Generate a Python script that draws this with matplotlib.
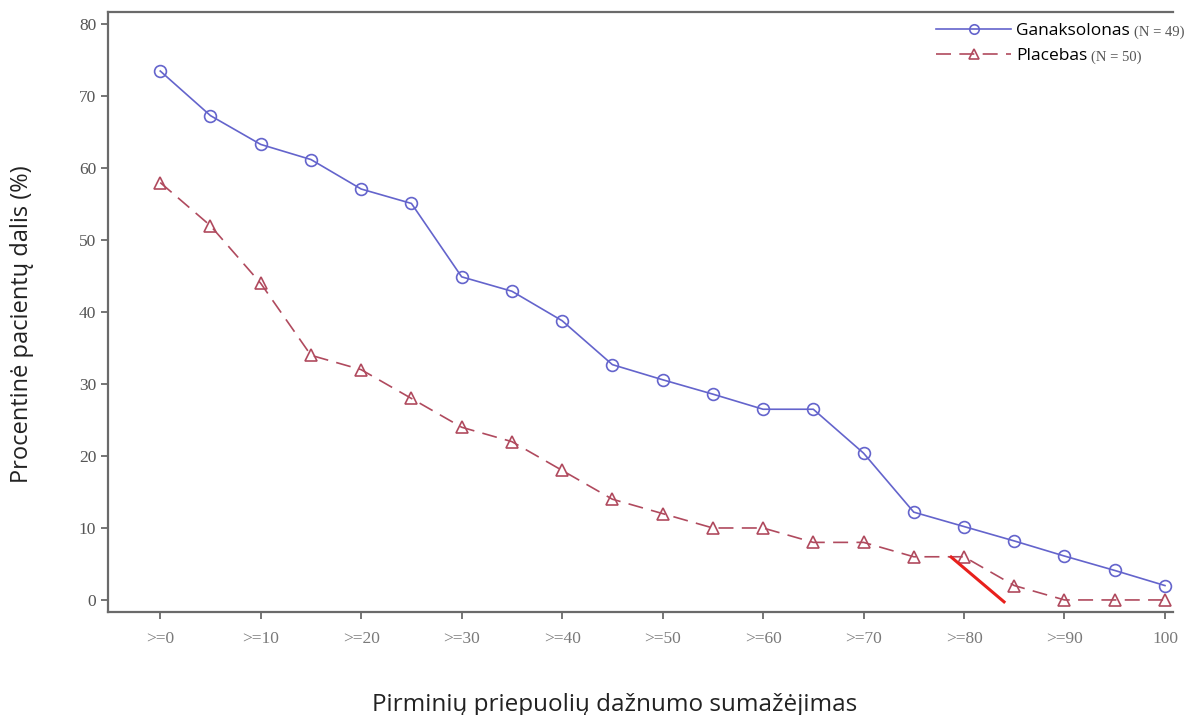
import numpy as np
import matplotlib
matplotlib.use("Agg")
import matplotlib.pyplot as plt

# sumažėjimo slenksčiai (%)
thresholds = np.arange(0, 101, 5)
tick_vals = np.arange(0, 101, 10)
tick_labels = ['>=0', '>=10', '>=20', '>=30', '>=40', '>=50',
               '>=60', '>=70', '>=80', '>=90', '100']

ganaksolonas = [73.5, 67.3, 63.3, 61.2, 57.1, 55.1, 44.9, 42.9, 38.8, 32.7,
                30.6, 28.6, 26.5, 26.5, 20.4, 12.2, 10.2, 8.2, 6.1, 4.1, 2.0]
placebas = [58, 52, 44, 34, 32, 28, 24, 22, 18, 14,
            12, 10, 10, 8, 8, 6, 6, 2, 0, 0, 0]

# raudona žymė ties >=80
mark_x = [78.6, 84.1]
mark_y = [6.1, -0.4]

blue = '#6464cc'
red = '#b04a5e'
grey = '#6a6a6a'

fig = plt.figure(figsize=(12, 7.15), dpi=100)
ax = fig.add_axes([0.09, 0.1441, 0.8875, 0.8391])

ax.plot(thresholds, ganaksolonas, color=blue, lw=1.2, marker='o', ms=8.5,
        mfc='none', mec=blue, mew=1.2, label='Ganaksolonas')
ax.plot(thresholds, placebas, color=red, lw=1.2, dashes=(9, 5), marker='^',
        ms=8.5, mfc='none', mec=red, mew=1.2, label='Placebas')
ax.plot(mark_x, mark_y, color='#e8201c', lw=2.2, solid_capstyle='butt', zorder=5)

ax.set_xlim(-5.2, 100.8)
ax.set_ylim(-1.67, 81.7)
ax.set_xticks(tick_vals)
ax.set_xticklabels(tick_labels)
ax.set_yticks(np.arange(0, 81, 10))

for side in ['left', 'bottom', 'top']:
    ax.spines[side].set_color(grey)
    ax.spines[side].set_linewidth(1.6)
ax.spines['right'].set_visible(False)
ax.tick_params(axis='both', colors=grey, length=5, width=1.3,
               labelsize=12.5, direction='out')
ax.tick_params(axis='y', labelcolor='#555555')
ax.tick_params(axis='x', pad=9, labelcolor='#7a7a7a')
for lab in ax.get_xticklabels() + ax.get_yticklabels():
    lab.set_fontfamily('Liberation Serif')

leg = ax.legend(loc='upper left', bbox_to_anchor=(0.763, 1.008), frameon=False,
                handlelength=4.3, handletextpad=0.3, labelspacing=0.5,
                markerscale=0.8, prop={'family': 'Open Sans', 'size': 12.5})

fig.canvas.draw()
r = fig.canvas.get_renderer()
for txt, n in zip(leg.get_texts(), ['(N = 49)', '(N = 50)']):
    bb = txt.get_window_extent(r)
    fig.text((bb.x1 + 4) / fig.bbox.width, (bb.y0 + bb.y1) / 2 / fig.bbox.height - 0.002,
             n, family='Liberation Serif', size=10.5, color='#555555',
             ha='left', va='center')

fig.text(22 / 1200, 1 - 324 / 715, 'Procentinė pacientų dalis (%)',
         rotation=90, ha='center', va='center', family='Open Sans',
         size=17, color='#222222')
fig.text(615 / 1200, 1 - 705 / 715, 'Pirminių priepuolių dažnumo sumažėjimas',
         ha='center', va='center', family='Open Sans', size=17.5, color='#222222')

fig.savefig('out.png', dpi=100)
